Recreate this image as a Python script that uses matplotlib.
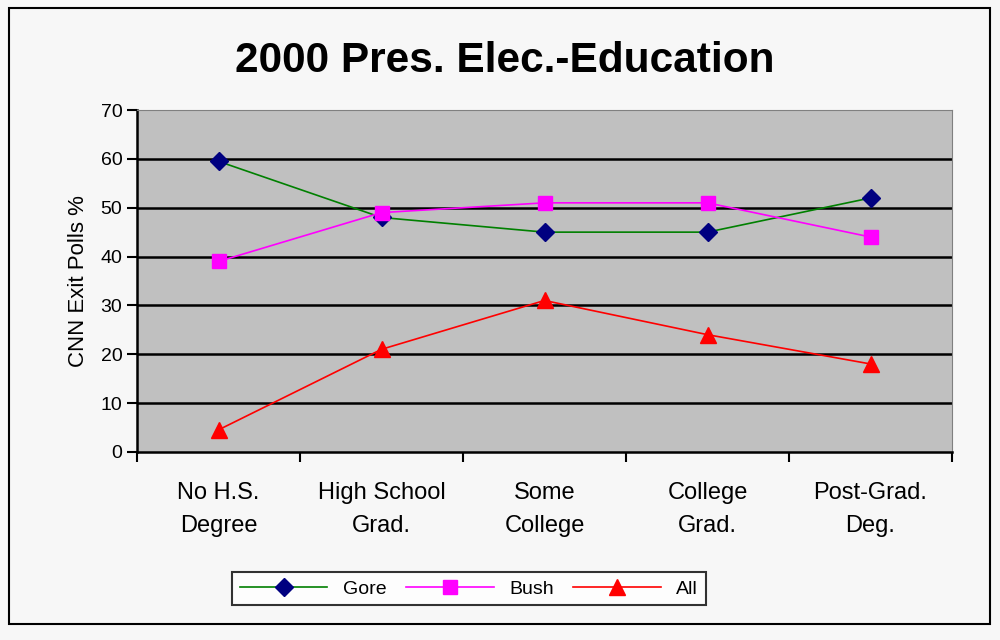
import matplotlib.pyplot as plt
from matplotlib.patches import Rectangle

categories = ["No H.S.\nDegree", "High School\nGrad.", "Some\nCollege", "College\nGrad.", "Post-Grad.\nDeg."]
gore = [59.5, 48, 45, 45, 52]
bush = [39, 49, 51, 51, 44]
all_voters = [4.5, 21, 31, 24, 18]

plt.rcParams['font.family'] = ['Liberation Sans', 'DejaVu Sans']

fig = plt.figure(figsize=(10, 6.4), dpi=100, facecolor="#f7f7f7")
fig.patches.append(Rectangle((0.009, 0.025), 0.981, 0.962, transform=fig.transFigure,
                             fill=False, edgecolor="black", linewidth=1.5))
ax = fig.add_axes([0.137, 0.294, 0.815, 0.534])
ax.set_facecolor("#c0c0c0")

x = range(len(categories))
ax.plot(x, gore, color="green", linewidth=1.2, marker="D", markersize=9,
        markerfacecolor="#000080", markeredgecolor="#000080", label="Gore")
ax.plot(x, bush, color="magenta", linewidth=1.2, marker="s", markersize=10,
        markerfacecolor="magenta", markeredgecolor="magenta", label="Bush")
ax.plot(x, all_voters, color="red", linewidth=1.2, marker="^", markersize=11,
        markerfacecolor="red", markeredgecolor="red", label="All")

ax.set_xlim(-0.5, 4.5)
ax.set_ylim(0, 70)
ax.set_yticks(range(0, 71, 10))
for y in range(10, 70, 10):
    ax.axhline(y, color="black", linewidth=1.8, zorder=1)

ax.set_xticks(list(x))
ax.set_xticklabels(categories, fontsize=17, linespacing=1.6)
ax.set_xticks([i - 0.5 for i in range(6)], minor=True)
ax.tick_params(axis="x", which="major", length=0, pad=22)
ax.tick_params(axis="x", which="minor", length=7, width=1.5, direction="out")
ax.tick_params(axis="y", length=7, width=1.5, direction="out", labelsize=14)

for side in ["top", "right"]:
    ax.spines[side].set_color("#808080")
ax.spines["left"].set_linewidth(1.8)
ax.spines["bottom"].set_linewidth(1.8)

ax.set_ylabel("CNN Exit Polls %", fontsize=16, labelpad=8)
fig.text(0.505, 0.905, "2000 Pres. Elec.-Education", ha="center", va="center",
         fontsize=30.5, fontweight="bold")

leg = fig.legend(loc="center", bbox_to_anchor=(0.469, 0.08), ncol=3, fontsize=14,
                 frameon=True, fancybox=False, edgecolor="black", facecolor="white",
                 handlelength=4.5, columnspacing=1.0, borderpad=0.4)
leg.get_frame().set_linewidth(1.5)

fig.savefig("out.png", dpi=100, facecolor=fig.get_facecolor())
